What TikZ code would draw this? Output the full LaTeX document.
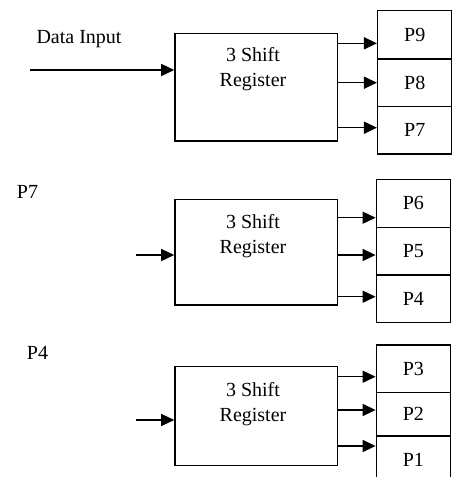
\documentclass[tikz,border=0pt]{standalone}
\usepackage{fontspec}
\setmainfont{Liberation Serif}
\usetikzlibrary{arrows.meta}
\begin{document}
\begin{tikzpicture}[x=1pt,y=-1pt,
  every node/.style={font=\fontsize{20}{25}\selectfont},
  regbox/.style={draw,line width=1.5pt,inner sep=0pt,minimum width=162.7pt},
  cellbox/.style={draw,line width=1.5pt,inner sep=0pt,minimum width=74pt},
  arr/.style={line width=1.5pt,-{Triangle[length=13pt,width=12pt]}},
  regtext/.style={align=center,inner sep=0pt}]
\useasboundingbox (0,0) rectangle (458,477);
\clip (0,0) rectangle (458,477);
% ---- section 1
\node[regbox,minimum height=107.7pt] (r1) at (256.3,87.2) {};
\node[regtext] (r1t) at (253,69.5) {3 Shift\\Register};
\node[cellbox,minimum height=48.3pt] (c9) at (414.7,34.85) {P9};
\node[cellbox,minimum height=47.7pt] (c8) at (414.7,82.85) {P8};
\node[cellbox,minimum height=47.3pt] (c7) at (414.7,130.35) {P7};
\node (din) at (79,39) {Data Input};
\coordinate (in1) at (30,70);
\draw[arr] (in1) -- (r1.west |- in1);
\draw[arr] (r1.east |- 0,43.3) -- (c9.west |- 0,43.3);
\draw[arr] (r1.east |- 0,82.7) -- (c8.west |- 0,82.7);
\draw[arr] (r1.east |- 0,127.7) -- (c7.west |- 0,127.7);
% ---- section 2
\node (lp7) at (27.5,191.7) {P7};
\node[regbox,minimum height=105.7pt] (r2) at (256.3,252.15) {};
\node[regtext] (r2t) at (253,236.3) {3 Shift\\Register};
\node[cellbox,minimum height=48pt] (c6) at (413.35,203.3) {P6};
\node[cellbox,minimum height=47.7pt] (c5) at (413.35,251.15) {P5};
\node[cellbox,minimum height=47.7pt] (c4) at (413.35,298.85) {P4};
\coordinate (in2) at (135.7,255);
\draw[arr] (in2) -- (r2.west |- in2);
\draw[arr] (r2.east |- 0,217.7) -- (c6.west |- 0,217.7);
\draw[arr] (r2.east |- 0,255) -- (c5.west |- 0,255);
\draw[arr] (r2.east |- 0,296.7) -- (c4.west |- 0,296.7);
% ---- section 3
\node (lp4) at (37.5,353.3) {P4};
\node[regbox,minimum height=99pt] (r3) at (256.3,416.2) {};
\node[regtext] (r3t) at (253,404) {3 Shift\\Register};
\node[cellbox,minimum height=47.7pt] (c3) at (413.35,368.85) {P3};
\node[cellbox,minimum height=43.3pt] (c2) at (413.35,414.35) {P2};
\node[cellbox,minimum height=48pt] (c1) at (413.35,460) {P1};
\coordinate (in3) at (135.7,420);
\draw[arr] (in3) -- (r3.west |- in3);
\draw[arr] (r3.east |- 0,376.7) -- (c3.west |- 0,376.7);
\draw[arr] (r3.east |- 0,410) -- (c2.west |- 0,410);
\draw[arr] (r3.east |- 0,446) -- (c1.west |- 0,446);
\end{tikzpicture}
\end{document}
